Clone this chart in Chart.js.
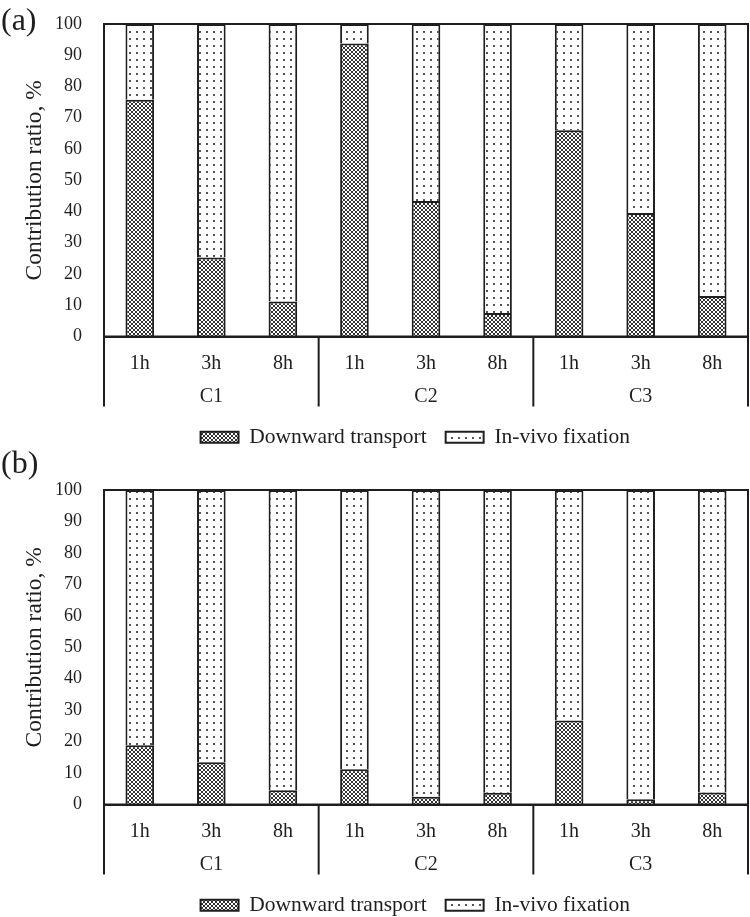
<!DOCTYPE html>
<html>
<head>
<meta charset="utf-8">
<script src="https://cdn.jsdelivr.net/npm/chart.js@4.4.1/dist/chart.umd.min.js"></script>
<style>
  html, body { margin: 0; padding: 0; background: #fff; overflow: hidden; }
  .wrap { position: absolute; left: 0; width: 750px; }
  #wrapA { top: 0; height: 458px; }
  #wrapB { top: 446px; height: 480px; }
</style>
</head>
<body>
<div class="wrap" id="wrapA"><canvas id="chartA" width="750" height="458"></canvas></div>
<div class="wrap" id="wrapB"><canvas id="chartB" width="750" height="480"></canvas></div>
<script>
// categories
const hours = ['1h', '3h', '8h', '1h', '3h', '8h', '1h', '3h', '8h'];
const groups = ['C1', 'C2', 'C3'];

// (a) contribution ratio, %
const downwardA = [75.8, 25.3, 11.2, 93.8, 43.4, 7.5, 66.0, 39.5, 13.0];
const invivoA   = [24.2, 74.7, 88.8, 6.2, 56.6, 92.5, 34.0, 60.5, 87.0];

// (b) contribution ratio, %
const downwardB = [18.8, 13.4, 4.5, 11.2, 2.5, 3.7, 26.7, 1.7, 3.8];
const invivoB   = [81.2, 86.6, 95.5, 88.8, 97.5, 96.3, 73.3, 98.3, 96.2];

const INK = '#1e1e1e';
const SERIF = '"Liberation Serif", "Times New Roman", serif';

Chart.defaults.font.family = SERIF;
Chart.defaults.font.size = 18;
Chart.defaults.color = INK;

// hatch fills
function crossHatch() {
  const c = document.createElement('canvas');
  c.width = 4; c.height = 4;
  const g = c.getContext('2d');
  g.fillStyle = '#fff';
  g.fillRect(0, 0, 4, 4);
  g.fillStyle = '#333';
  [[0,0],[1,1],[2,2],[3,3],[0,3],[1,2],[2,1],[3,0]].forEach(p => g.fillRect(p[0], p[1], 1, 1));
  return g.createPattern(c, 'repeat');
}

function dotFill() {
  const c = document.createElement('canvas');
  c.width = 7; c.height = 7;
  const g = c.getContext('2d');
  g.fillStyle = '#fff';
  g.fillRect(0, 0, 7, 7);
  g.fillStyle = '#555';
  g.fillRect(3, 3, 2, 2);
  return g.createPattern(c, 'repeat');
}

// frame, group separators, group names and panel tag
const groupAxis = {
  id: 'groupAxis',
  afterDraw(chart, args, opts) {
    const { ctx, chartArea: a, scales: { x } } = chart;
    const per = hours.length / groups.length;
    ctx.save();
    ctx.strokeStyle = INK;
    ctx.lineWidth = 2;
    ctx.strokeRect(a.left, a.top, a.right - a.left, a.bottom - a.top);

    ctx.beginPath();
    for (let g = 0; g <= groups.length; g++) {
      let px;
      if (g === 0) px = x.left;
      else if (g === groups.length) px = x.right;
      else px = (x.getPixelForValue(g * per - 1) + x.getPixelForValue(g * per)) / 2;
      ctx.moveTo(px, a.bottom);
      ctx.lineTo(px, a.bottom + 70);
    }
    ctx.stroke();

    ctx.fillStyle = INK;
    ctx.font = '20px ' + SERIF;
    ctx.textAlign = 'center';
    ctx.textBaseline = 'middle';
    groups.forEach((name, k) => {
      const mid = (x.getPixelForValue(k * per) + x.getPixelForValue(k * per + per - 1)) / 2;
      ctx.fillText(name, mid, a.bottom + 60);
    });

    ctx.font = '32px ' + SERIF;
    ctx.textAlign = 'left';
    ctx.fillText(opts.tag, 1, opts.tagY);
    ctx.restore();
  }
};

// a little trailing room after the last legend entry, as in the original layout
const legendTail = ['', '    '];

function makeChart(id, down, vivo, padTop, tag, tagY) {
  const hatch = crossHatch();
  const dots = dotFill();
  return new Chart(document.getElementById(id), {
    type: 'bar',
    data: {
      labels: hours,
      datasets: [
        { label: 'Downward transport', data: down, backgroundColor: hatch,
          borderColor: INK, borderWidth: 2, barPercentage: 0.4, categoryPercentage: 1 },
        { label: 'In-vivo fixation', data: vivo, backgroundColor: dots,
          borderColor: INK, borderWidth: 2, barPercentage: 0.4, categoryPercentage: 1 }
      ]
    },
    options: {
      responsive: false,
      animation: false,
      layout: { padding: { left: 0, right: 2, top: padTop, bottom: 0 } },
      scales: {
        x: {
          stacked: true,
          grid: { display: false, drawTicks: false },
          border: { display: true, color: INK, width: 2 },
          ticks: { padding: 15, color: INK, font: { size: 20 } },
          afterFit: s => { s.height = 71; }
        },
        y: {
          stacked: true,
          min: 0, max: 100,
          // hidden tick marks give the label gap without padding the plot top
          grid: { display: false, drawTicks: true, tickLength: 22 },
          border: { display: true, color: INK, width: 2 },
          ticks: { stepSize: 10, padding: 0, color: INK, font: { size: 18 } },
          title: { display: true, text: 'Contribution ratio, %', color: INK,
                   font: { size: 23.5 }, padding: { top: 21, bottom: 0 } },
          afterFit: s => { s.width = 104; }
        }
      },
      plugins: {
        legend: {
          position: 'bottom',
          fullSize: false,
          labels: {
            boxWidth: 38, boxHeight: 11, padding: 19, color: INK, font: { size: 21.5 },
            generateLabels: c => Chart.defaults.plugins.legend.labels.generateLabels(c)
              .map((item, i) => Object.assign(item, { text: item.text + legendTail[i] }))
          }
        },
        tooltip: { enabled: false },
        groupAxis: { tag: tag, tagY: tagY }
      }
    },
    plugins: [groupAxis]
  });
}

makeChart('chartA', downwardA, invivoA, 24, '(a)', 22);
makeChart('chartB', downwardB, invivoB, 44, '(b)', 19);
</script>
</body>
</html>
